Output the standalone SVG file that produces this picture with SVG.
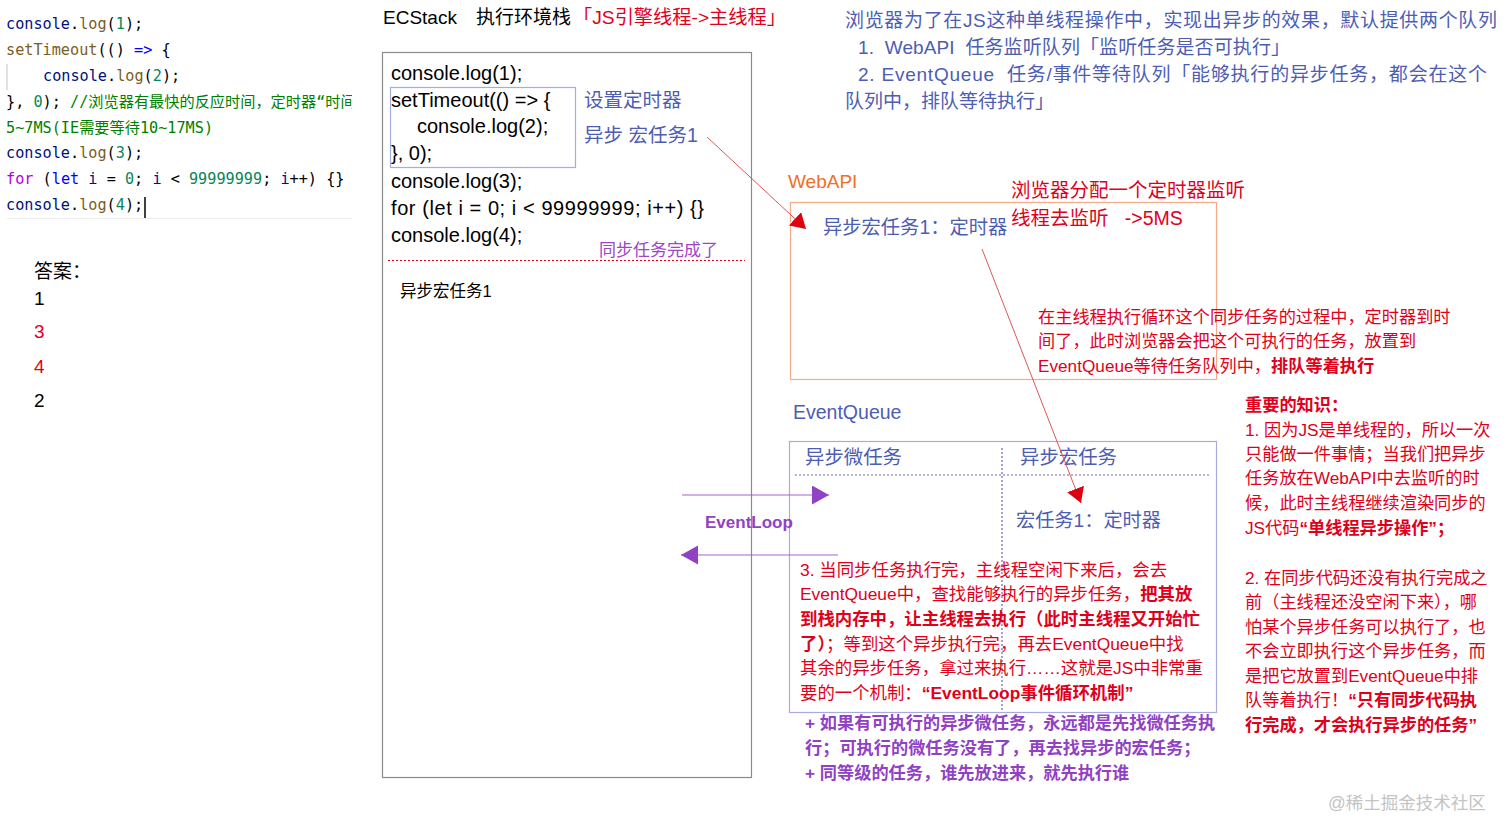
<svg xmlns="http://www.w3.org/2000/svg" width="1512" height="837" viewBox="0 0 1512 837">
<style>
text{white-space:pre}
.s{font-family:"Liberation Sans","Noto Sans CJK SC",sans-serif}
.m{font-family:"DejaVu Sans Mono","Noto Sans CJK SC",monospace;font-size:15.2px;fill:#000}
.b{font-weight:bold}
.blue{fill:#4d5db4}
.red{fill:#e0001b}
.pur{fill:#9141c4}
.v{fill:#001080}.fn{fill:#795e26}.num{fill:#098658}.kw{fill:#0000ff}.ctl{fill:#af00db}.cm{fill:#008000}
</style>
<defs>
<clipPath id="codeclip"><rect x="0" y="0" width="352" height="240"/></clipPath>
<marker id="ar" markerUnits="userSpaceOnUse" markerWidth="16" markerHeight="18" refX="15" refY="9" orient="auto"><path d="M0,0 L15,9 L0,18 z" fill="#dd0011"/></marker>
<marker id="ap" markerUnits="userSpaceOnUse" markerWidth="18" markerHeight="20" refX="17" refY="9.5" orient="auto"><path d="M0,0 L17,9.5 L0,19 z" fill="#9141c4"/></marker>
</defs>
<rect width="1512" height="837" fill="#fff"/>

<g id="code" clip-path="url(#codeclip)">
<line x1="7" y1="64" x2="7" y2="90" stroke="#d8d8d8" stroke-width="1.5"/>
<line x1="7" y1="218.5" x2="352" y2="218.5" stroke="#ececec" stroke-width="1"/>
<text class="m" x="6" y="29"><tspan class="v">console</tspan>.<tspan class="fn">log</tspan>(<tspan class="num">1</tspan>);</text>
<text class="m" x="6" y="55"><tspan class="fn">setTimeout</tspan>(() <tspan class="kw">=&gt;</tspan> {</text>
<text class="m" x="43" y="81"><tspan class="v">console</tspan>.<tspan class="fn">log</tspan>(<tspan class="num">2</tspan>);</text>
<text class="m" x="6" y="107">}, <tspan class="num">0</tspan>); <tspan class="cm">//浏览器有最快的反应时间，定时器“时间</tspan></text>
<text class="m cm" x="6" y="133">5~7MS(IE需要等待10~17MS)</text>
<text class="m" x="6" y="158"><tspan class="v">console</tspan>.<tspan class="fn">log</tspan>(<tspan class="num">3</tspan>);</text>
<text class="m" x="6" y="184"><tspan class="ctl">for</tspan> (<tspan class="kw">let</tspan> <tspan class="v">i</tspan> = <tspan class="num">0</tspan>; <tspan class="v">i</tspan> &lt; <tspan class="num">99999999</tspan>; <tspan class="v">i</tspan>++) {}</text>
<text class="m" x="6" y="210"><tspan class="v">console</tspan>.<tspan class="fn">log</tspan>(<tspan class="num">4</tspan>);</text>
<line x1="145" y1="197" x2="145" y2="218" stroke="#000" stroke-width="1.5"/>
</g>

<g id="answer" class="s" font-size="19">
<text x="34" y="278">答案：</text>
<text x="34" y="305">1</text>
<text x="34" y="338" class="red">3</text>
<text x="34" y="373" class="red">4</text>
<text x="34" y="407">2</text>
</g>

<g id="ecstack-title" class="s" font-size="19">
<text x="383" y="24">ECStack</text>
<text x="476" y="24">执行环境栈</text>
<text x="573" y="24" class="red" textLength="213" lengthAdjust="spacingAndGlyphs">「JS引擎线程-&gt;主线程」</text>
</g>

<g id="ecstack">
<rect x="382.5" y="52.5" width="369" height="725" fill="none" stroke="#8a8a8a" stroke-width="1.2"/>
<rect x="390.5" y="87.5" width="185" height="80" fill="none" stroke="#a4aedc" stroke-width="1.2"/>
<g class="s" font-size="20">
<text x="391" y="80">console.log(1);</text>
<text x="391" y="107">setTimeout(() =&gt; {</text>
<text x="417" y="133">console.log(2);</text>
<text x="391" y="160">}, 0);</text>
<text x="391" y="188">console.log(3);</text>
<text x="391" y="215" textLength="313" lengthAdjust="spacing">for (let i = 0; i &lt; 99999999; i++) {}</text>
<text x="391" y="242">console.log(4);</text>
</g>
<text class="s blue" font-size="19.5" x="584" y="107">设置定时器</text>
<text class="s blue" font-size="19.5" x="584" y="142">异步 宏任务1</text>
<text class="s" font-size="17" x="599" y="256" fill="#a044c8">同步任务完成了</text>
<line x1="388" y1="260.5" x2="745" y2="260.5" stroke="#e0001b" stroke-width="1.2" stroke-dasharray="2,2"/>
<text class="s" font-size="16.5" x="400" y="297">异步宏任务1</text>
</g>

<g id="intro" class="s blue" font-size="19">
<text x="845" y="27" textLength="652" lengthAdjust="spacing">浏览器为了在JS这种单线程操作中，实现出异步的效果，默认提供两个队列</text>
<text x="858" y="54" textLength="432" lengthAdjust="spacing">1.  WebAPI  任务监听队列「监听任务是否可执行」</text>
<text x="858" y="81" textLength="629" lengthAdjust="spacing">2. EventQueue  任务/事件等待队列「能够执行的异步任务，都会在这个</text>
<text x="845" y="108">队列中，排队等待执行」</text>
</g>

<g id="webapi">
<text class="s" font-size="19" x="788" y="188" fill="#f07028">WebAPI</text>
<rect x="790.5" y="202.5" width="426" height="177" fill="none" stroke="#f5a98a" stroke-width="1.2"/>
<text class="s blue" font-size="19.3" x="823" y="234">异步宏任务1：定时器</text>
<text class="s red" font-size="19.5" x="1011" y="197">浏览器分配一个定时器监听</text>
<text class="s red" font-size="19.5" x="1011" y="225">线程去监听   -&gt;5MS</text>
<g class="s red" font-size="17.2">
<text x="1038" y="323">在主线程执行循环这个同步任务的过程中，定时器到时</text>
<text x="1038" y="347">间了，此时浏览器会把这个可执行的任务，放置到</text>
<text x="1038" y="372">EventQueue等待任务队列中，<tspan class="b">排队等着执行</tspan></text>
</g>
</g>

<g id="eventqueue">
<text class="s blue" font-size="19.5" x="793" y="419">EventQueue</text>
<rect x="789.5" y="441.5" width="427" height="271" fill="none" stroke="#aaaae2" stroke-width="1.2"/>
<line x1="1002" y1="448" x2="1002" y2="712" stroke="#6a6aa8" stroke-width="1.2" stroke-dasharray="2,2"/>
<line x1="795" y1="475" x2="1210" y2="475" stroke="#6a6aa8" stroke-width="1.2" stroke-dasharray="2,2"/>
<text class="s blue" font-size="19.4" x="805" y="464">异步微任务</text>
<text class="s blue" font-size="19.4" x="1020" y="464">异步宏任务</text>
<text class="s blue" font-size="19.2" x="1016" y="527">宏任务1：定时器</text>
<g class="s red" font-size="17.4">
<text x="800" y="576">3. 当同步任务执行完，主线程空闲下来后，会去</text>
<text x="800" y="600">EventQueue中，查找能够执行的异步任务，<tspan class="b">把其放</tspan></text>
<text x="800" y="625" class="b">到栈内存中，让主线程去执行（此时主线程又开始忙</text>
<text x="800" y="650"><tspan class="b">了）</tspan>；等到这个异步执行完，再去EventQueue中找</text>
<text x="800" y="674">其余的异步任务，拿过来执行……这就是JS中非常重</text>
<text x="800" y="699">要的一个机制：<tspan class="b">“EventLoop事件循环机制”</tspan></text>
</g>
<g class="s pur b" font-size="17.2">
<text x="805" y="729">+ 如果有可执行的异步微任务，永远都是先找微任务执</text>
<text x="805" y="754">行；可执行的微任务没有了，再去找异步的宏任务；</text>
<text x="805" y="779">+ 同等级的任务，谁先放进来，就先执行谁</text>
</g>
</g>

<g id="knowledge" class="s red" font-size="17.2">
<text x="1245" y="411" class="b">重要的知识：</text>
<text x="1245" y="436">1. 因为JS是单线程的，所以一次</text>
<text x="1245" y="460">只能做一件事情；当我们把异步</text>
<text x="1245" y="484">任务放在WebAPI中去监听的时</text>
<text x="1245" y="509">候，此时主线程继续渲染同步的</text>
<text x="1245" y="534">JS代码<tspan class="b">“单线程异步操作”；</tspan></text>
<text x="1245" y="584">2. 在同步代码还没有执行完成之</text>
<text x="1245" y="608">前（主线程还没空闲下来），哪</text>
<text x="1245" y="633">怕某个异步任务可以执行了，也</text>
<text x="1245" y="657">不会立即执行这个异步任务，而</text>
<text x="1245" y="682">是把它放置到EventQueue中排</text>
<text x="1245" y="706">队等着执行！<tspan class="b">“只有同步代码执</tspan></text>
<text x="1245" y="731" class="b">行完成，才会执行异步的任务”</text>
</g>

<g id="connectors">
<line x1="707" y1="137" x2="806" y2="229" stroke="#e05555" stroke-width="1" marker-end="url(#ar)"/>
<line x1="982" y1="249" x2="1081" y2="503" stroke="#e05555" stroke-width="1" marker-end="url(#ar)"/>
<line x1="682" y1="495" x2="829" y2="495" stroke="#a565d4" stroke-width="1.2" marker-end="url(#ap)"/>
<line x1="838" y1="555" x2="681" y2="555" stroke="#a565d4" stroke-width="1.2" marker-end="url(#ap)"/>
<text class="s pur b" font-size="17" x="705" y="528">EventLoop</text>
</g>

<text class="s" font-size="17.5" x="1328" y="809" fill="#c4c4c4">@稀土掘金技术社区</text>
</svg>
